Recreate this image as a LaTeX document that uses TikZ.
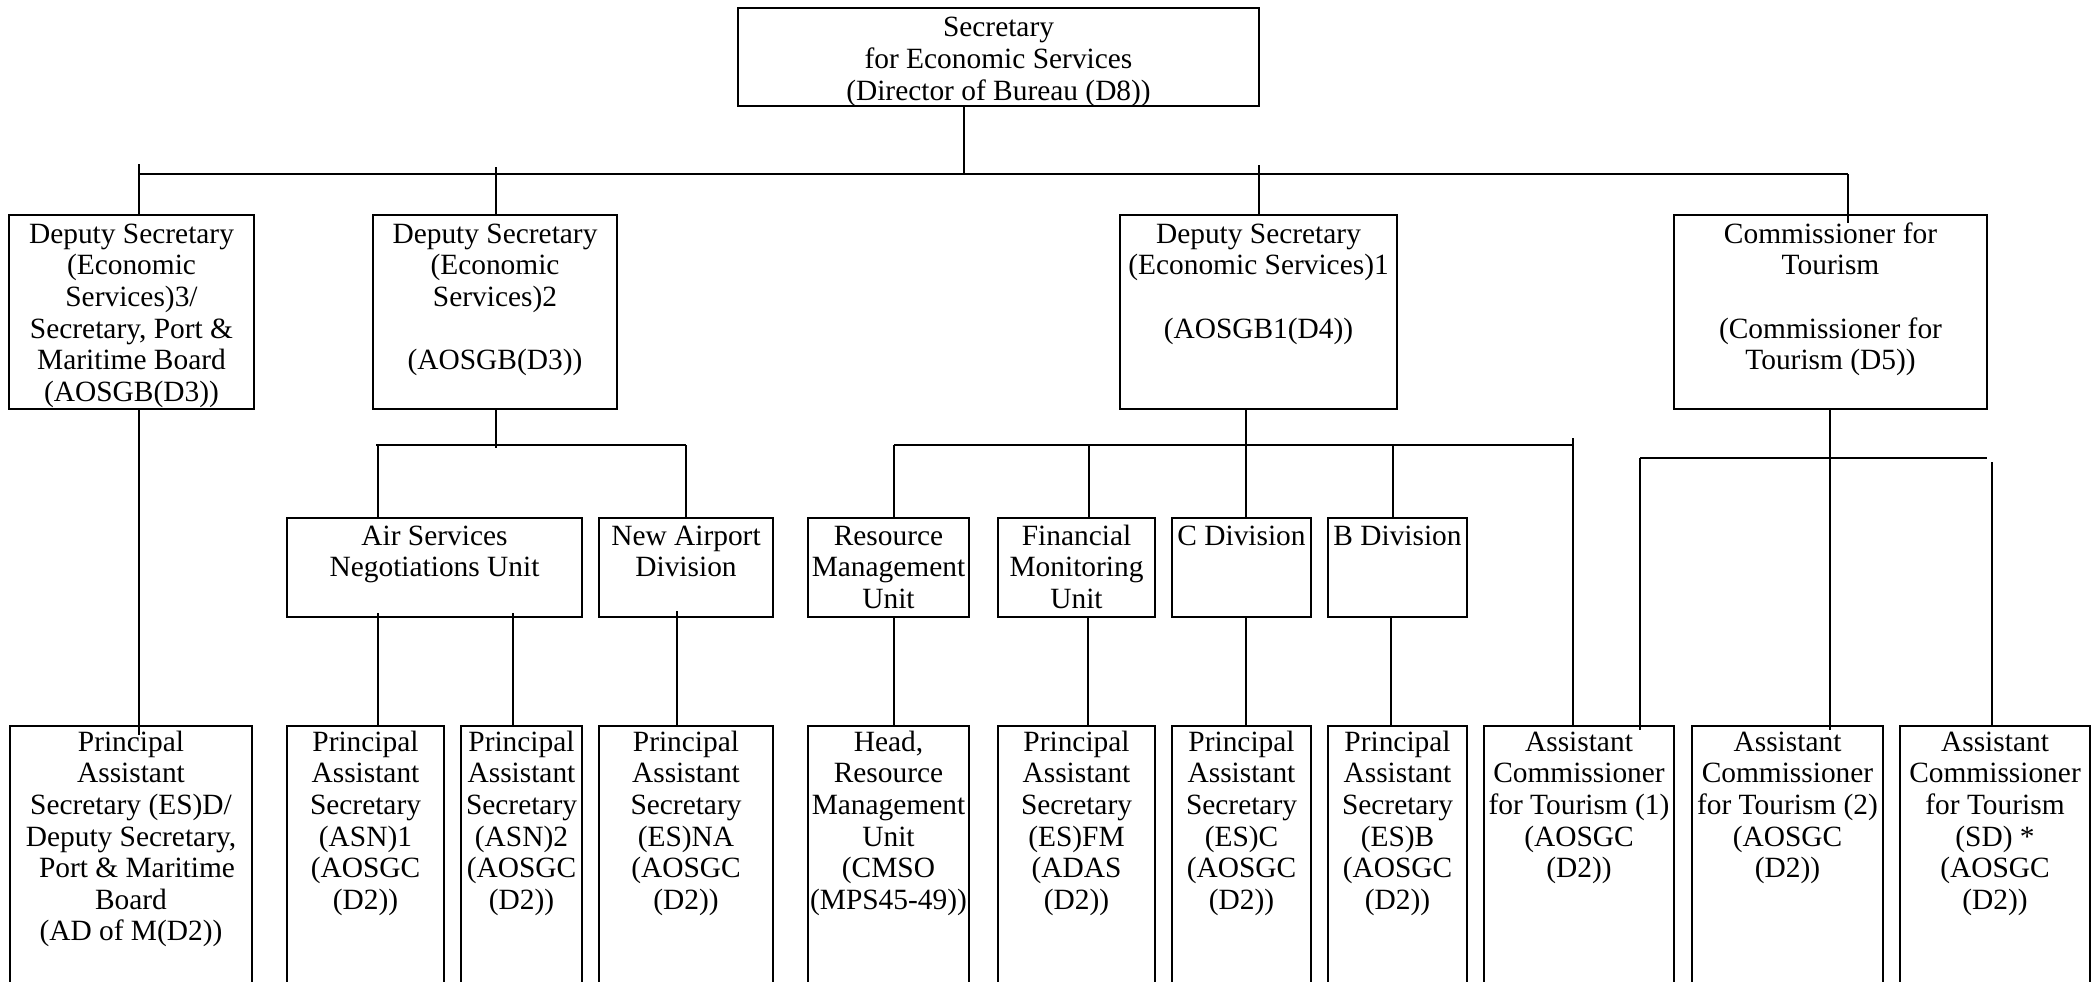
\documentclass[tikz,border=0pt]{standalone}
\usepackage{fontspec}
\setmainfont{Liberation Serif}
\usetikzlibrary{calc}
\newcommand\obox[7]{%
  \node[boxst, anchor=north west, minimum width=#4pt-#2pt, minimum height=#5pt-#3pt] (#1) at (#2,#3) {};
  \node[txt, anchor=north] (#1t) at ($(#1.north)+(0,#6)$) {\strut#7};}
\newcommand\opbox[5]{%
  \node[inner sep=0pt, outer sep=0pt, anchor=north west, minimum width=#3pt-#2pt, minimum height=300pt] (#1) at (#2,726) {};
  \draw[opst] (#1.south west) -- (#1.north west) -- (#1.north east) -- (#1.south east);
  \node[txt, anchor=north] (#1t) at ($(#1.north)+(0,#4)$) {\strut#5};}
\begin{document}
\begin{tikzpicture}[x=1pt,y=-1pt,
  boxst/.style={draw, line width=2.6pt, inner sep=0pt, outer sep=0pt},
  opst/.style={line width=2.6pt},
  txt/.style={align=center, inner sep=0pt, font=\fontsize{29.4pt}{31.6pt}\selectfont},
  con/.style={line width=1.8pt},
  hcon/.style={line width=2.6pt}]
\useasboundingbox (0,0) rectangle (2093,982);
\fill[white] (0,0) rectangle (2093,982);
\clip (0,0) rectangle (2093,982);

% level 1
\obox{top}{738}{8}{1259}{106}{6.6}{Secretary\\for Economic Services\\(Director of Bureau (D8))}

% level 2
\obox{dsthree}{9}{215}{254}{409}{6}{Deputy Secretary\\(Economic\\Services)3/\\Secretary, Port \&\\Maritime Board\\(AOSGB(D3))}
\obox{dstwo}{373}{215}{617}{409}{6}{Deputy Secretary\\(Economic\\Services)2\\[31.6pt](AOSGB(D3))}
\obox{dsone}{1120}{215}{1397}{409}{6}{Deputy Secretary\\(Economic Services)1\\[31.6pt](AOSGB1(D4))}
\obox{ct}{1674}{215}{1987}{409}{6}{Commissioner for\\Tourism\\[31.6pt](Commissioner for\\Tourism (D5))}

% level 3
\obox{asn}{287}{518}{582}{617}{5}{Air Services\\Negotiations Unit}
\obox{nad}{599}{518}{773}{617}{5}{New Airport\\Division}
\obox{rmu}{808}{518}{969}{617}{5}{Resource\\Management\\Unit}
\obox{fmu}{998}{518}{1155}{617}{5}{Financial\\Monitoring\\Unit}
\obox{cdiv}{1172}{518}{1311}{617}{5}{C Division}
\obox{bdiv}{1328}{518}{1467}{617}{5}{B Division}

% level 4 (open at the bottom)
\opbox{pasd}{10}{252}{3}{Principal\\Assistant\\Secretary (ES)D/\\Deputy Secretary,\\\hspace*{12pt}Port \& Maritime\\Board\\(AD of M(D2))}
\opbox{asnone}{287}{444}{3}{Principal\\Assistant\\Secretary\\(ASN)1\\(AOSGC\\(D2))}
\opbox{asntwo}{461}{582}{3}{Principal\\Assistant\\Secretary\\(ASN)2\\(AOSGC\\(D2))}
\opbox{esna}{599}{773}{3}{Principal\\Assistant\\Secretary\\(ES)NA\\(AOSGC\\(D2))}
\opbox{hrmu}{808}{969}{3}{Head,\\Resource\\Management\\Unit\\(CMSO\\(MPS45-49))}
\opbox{fm}{998}{1155}{3}{Principal\\Assistant\\Secretary\\(ES)FM\\(ADAS\\(D2))}
\opbox{esc}{1172}{1311}{3}{Principal\\Assistant\\Secretary\\(ES)C\\(AOSGC\\(D2))}
\opbox{esb}{1328}{1467}{3}{Principal\\Assistant\\Secretary\\(ES)B\\(AOSGC\\(D2))}
\opbox{actone}{1484}{1674}{3}{Assistant\\Commissioner\\for Tourism (1)\\(AOSGC\\(D2))}
\opbox{acttwo}{1692}{1883}{3}{Assistant\\Commissioner\\for Tourism (2)\\(AOSGC\\(D2))}
\opbox{actsd}{1900}{2090}{3}{Assistant\\Commissioner\\for Tourism\\(SD) *\\(AOSGC\\(D2))}

% connectors: level 1 -> level 2
\coordinate (hAL) at (139,174);
\coordinate (hAM) at (964,174);
\coordinate (hAR) at (1848,174);
\coordinate (tA) at (139,164);
\coordinate (tB) at (496,167);
\coordinate (tC) at (1259,165);
\coordinate (ctIn) at (1848,223);
\draw[con] (top.south -| hAM) -- (hAM);
\draw[hcon] (hAL) -- (hAR);
\draw[con] (tA) -- (tA |- dsthree.north);
\draw[con] (tB) -- (tB |- dstwo.north);
\draw[con] (tC) -- (tC |- dsone.north);
\draw[con] (hAR) -- (ctIn);

% DS3 -> PAS (ES)D
\coordinate (pasdIn) at (139,735);
\draw[con] (dsthree.south -| pasdIn) -- (pasdIn);

% DS2 branch
\coordinate (dsTwoT) at (496,448);
\coordinate (hBL) at (376,445);
\coordinate (hBR) at (686,445);
\coordinate (bA) at (378,445);
\draw[con] (dstwo.south -| dsTwoT) -- (dsTwoT);
\draw[hcon] (hBL) -- (hBR);
\draw[con] (bA) -- (bA |- asn.north);
\draw[con] (hBR) -- (hBR |- nad.north);
\coordinate (asnA) at (378,613);
\coordinate (asnB) at (513,613);
\coordinate (nadA) at (677,611);
\draw[con] (asnA) -- (asnA |- asnone.north);
\draw[con] (asnB) -- (asnB |- asntwo.north);
\draw[con] (nadA) -- (nadA |- esna.north);

% DS1 branch
\coordinate (hCL) at (894,445);
\coordinate (hCM) at (1246,445);
\coordinate (hCR) at (1573,445);
\coordinate (cF) at (1089,445);
\coordinate (cB) at (1393,445);
\coordinate (cT) at (1573,438);
\draw[con] (dsone.south -| hCM) -- (hCM);
\draw[hcon] (hCL) -- (hCR);
\draw[con] (hCL) -- (hCL |- rmu.north);
\draw[con] (cF) -- (cF |- fmu.north);
\draw[con] (hCM) -- (hCM |- cdiv.north);
\draw[con] (cB) -- (cB |- bdiv.north);
\draw[con] (cT) -- (cT |- actone.north);
\coordinate (rmuD) at (894,617);
\coordinate (fmuD) at (1088,617);
\coordinate (cdivD) at (1246,617);
\coordinate (bdivD) at (1391,617);
\draw[con] (rmu.south -| rmuD) -- (rmuD |- hrmu.north);
\draw[con] (fmu.south -| fmuD) -- (fmuD |- fm.north);
\draw[con] (cdiv.south -| cdivD) -- (cdivD |- esc.north);
\draw[con] (bdiv.south -| bdivD) -- (bdivD |- esb.north);

% Commissioner branch
\coordinate (ctDown) at (1830,730);
\coordinate (hDL) at (1640,458);
\coordinate (hDR) at (1987,458);
\coordinate (dR) at (1992,462);
\coordinate (actIn) at (1640,730);
\draw[con] (ct.south -| ctDown) -- (ctDown);
\draw[hcon] (hDL) -- (hDR);
\draw[con] (hDL) -- (actIn);
\draw[con] (dR) -- (dR |- actsd.north);
\end{tikzpicture}
\end{document}
